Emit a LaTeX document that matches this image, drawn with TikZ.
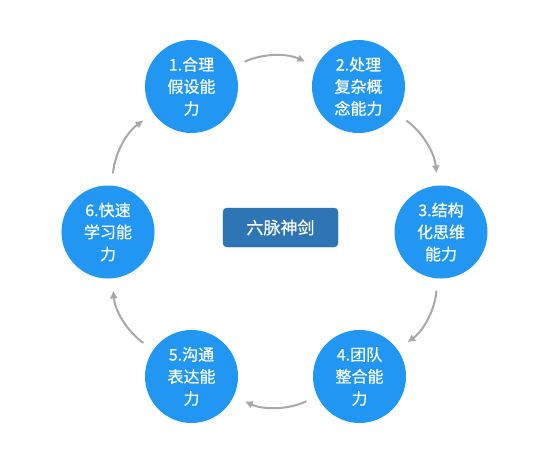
\documentclass[tikz,border=0pt]{standalone}
\usepackage{fontspec}
\newfontfamily\cjk[FakeBold=0.6]{Noto Sans CJK SC}
\usetikzlibrary{arrows.meta}

\definecolor{skillblue}{HTML}{2196F3}
\definecolor{hubblue}{HTML}{2E75B6}
\definecolor{hubedge}{HTML}{2A68A3}
\definecolor{flowgray}{HTML}{A8A8A8}

\tikzset{
  skill/.style={circle, fill=skillblue, text=white, minimum size=93pt,
    inner sep=0pt, align=center, font=\cjk\fontsize{16}{22}\selectfont},
  hub/.style={rectangle, rounded corners=4pt, fill=hubblue, draw=hubedge,
    text=white, minimum width=115pt, minimum height=39pt,
    font=\cjk\fontsize{17}{20}\selectfont},
  flow/.style={draw=flowgray, line width=2pt, bend left=25,
    shorten <=12pt, shorten >=12pt, -{Latex[length=8pt,width=8pt]}}
}

\begin{document}
\begin{tikzpicture}[x=1pt, y=-1pt]

  \useasboundingbox (0,0) rectangle (554,456);

  % Six abilities on a ring
  \node[skill] (c1) at (191.5, 86.5) {1.合理\\假设能\\力};
  \node[skill] (c2) at (358.5, 86.5) {2.处理\\复杂概\\念能力};
  \node[skill] (c3) at (441, 232)    {3.结构\\化思维\\能力};
  \node[skill] (c4) at (359.5, 376.5) {4.团队\\整合能\\力};
  \node[skill] (c5) at (191.5, 376.5) {5.沟通\\表达能\\力};
  \node[skill] (c6) at (108, 232)    {6.快速\\学习能\\力};

  % Title in the middle
  \node[hub] (hub) at (280.5, 227.5) {六脉神剑};

  % Arrows round the ring
  \draw[flow] (c1) to (c2);
  \draw[flow] (c2) to (c3);
  \draw[flow] (c3) to (c4);
  \draw[flow] (c4) to (c5);
  \draw[flow] (c5) to (c6);
  \draw[flow] (c6) to (c1);

\end{tikzpicture}
\end{document}
